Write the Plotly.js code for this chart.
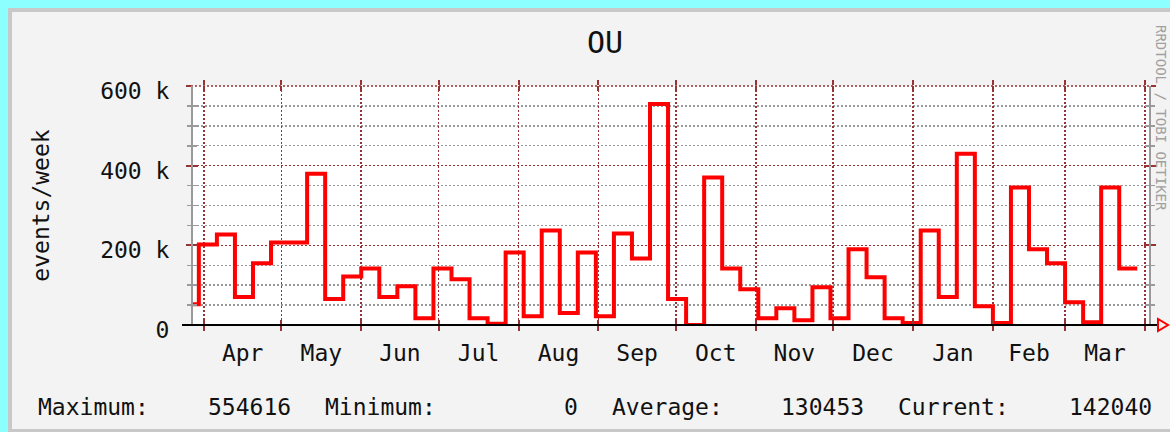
<!DOCTYPE html>
<html>
<head>
<meta charset="utf-8">
<script src="https://cdn.plot.ly/plotly-3.0.1.min.js"></script>
<style>
  html, body { margin:0; padding:0; }
  body { width:1170px; height:432px; background:#8cffff; position:relative; overflow:hidden; }
  #frame { position:absolute; left:8px; top:8px; width:1162px; height:424px; background:#c8c8c8; }
  #inner { position:absolute; left:12px; top:12px; width:1158px; height:417px; background:#f3f3f3; }
  #chart { position:absolute; left:0; top:0; width:1170px; height:432px; }
</style>
</head>
<body>
<div id="frame"></div>
<div id="inner"></div>
<div id="chart"></div>
<script>
// ---- data ----
const weekStart = ['2006-03-23','2006-03-30','2006-04-06','2006-04-13','2006-04-20','2006-04-27',
  '2006-05-04','2006-05-11','2006-05-18','2006-05-25','2006-06-01','2006-06-08','2006-06-15',
  '2006-06-22','2006-06-29','2006-07-06','2006-07-13','2006-07-20','2006-07-27','2006-08-03',
  '2006-08-10','2006-08-17','2006-08-24','2006-08-31','2006-09-07','2006-09-14','2006-09-21',
  '2006-09-28','2006-10-05','2006-10-12','2006-10-19','2006-10-26','2006-11-02','2006-11-09',
  '2006-11-16','2006-11-23','2006-11-30','2006-12-07','2006-12-14','2006-12-21','2006-12-28',
  '2007-01-04','2007-01-11','2007-01-18','2007-01-25','2007-02-01','2007-02-08','2007-02-15',
  '2007-02-22','2007-03-01','2007-03-08','2007-03-15','2007-03-22','2007-03-29'];
const eventsPerWeek = [52000,
  202000,227000,70000,155000,207000,207000,380000,65000,122000,142000,
  70000,97000,17000,142000,115000,17000,3000,182000,22000,237000,
  30000,182000,22000,230000,167000,554616,65000,0,370000,142000,
  90000,17000,42000,12000,95000,17000,190000,120000,17000,5000,
  237000,70000,430000,47000,5000,345000,190000,155000,57000,7000,
  345000,142040,
  142040];
const yTickVals = [0, 200000, 400000, 600000];
const yTickText = ['0', '200 k', '400 k', '600 k'];
const chartTitle = 'OU';
const yTitle = 'events/week';
const statLabels = ['Maximum:', 'Minimum:', 'Average:', 'Current:'];
const statValues = ['554616', '0', '130453', '142040'];
const watermark = 'RRDTOOL / TOBI OETIKER';

// ---- styling / geometry ----
const FONT = 'DejaVu Sans Mono, monospace';
const RED_GRID = '#993333';
const GRAY = '#9a9a9a';
const W = 1170, H = 432;
const L = 193, R = 1149, T = 86, B = 325;
const px = x => (x - L) / (R - L);
const py = y => (B - y) / (B - T);
const xRange = ['2006-03-27 17:36', '2007-04-02 13:14'];
const yRange = [0, 600000];

const traces = [
  { x: weekStart, y: eventsPerWeek, type: 'scatter', mode: 'lines',
    line: { shape: 'hv', color: '#ff0000', width: 4 }, hoverinfo: 'x+y', showlegend: false },
  { x: [], y: [], xaxis: 'x2', yaxis: 'y2', type: 'scatter', mode: 'lines', showlegend: false }
];

const annotations = [];
const labelX = [36, 323, 610, 896];
const valueX = [293, 580, 866, 1154];
statLabels.forEach((s, i) => {
  annotations.push({ text: s, xref: 'paper', yref: 'paper', x: px(labelX[i]), y: py(407),
    xanchor: 'left', yanchor: 'middle', showarrow: false, font: { family: FONT, size: 23, color: '#111' } });
  annotations.push({ text: statValues[i], xref: 'paper', yref: 'paper', x: px(valueX[i]), y: py(407),
    xanchor: 'right', yanchor: 'middle', showarrow: false, font: { family: FONT, size: 23, color: '#111' } });
});
annotations.push({ text: watermark, xref: 'paper', yref: 'paper', x: px(1161), y: py(118),
  xanchor: 'center', yanchor: 'middle', textangle: 90, showarrow: false,
  font: { family: FONT, size: 14, color: '#a0a0a0' } });

const layout = {
  width: W, height: H, autosize: false,
  margin: { l: L, r: W - R, t: T, b: H - B, pad: 0 },
  paper_bgcolor: 'rgba(0,0,0,0)', plot_bgcolor: '#ffffff',
  title: { text: chartTitle, font: { family: FONT, size: 30, color: '#111' },
    xref: 'container', yref: 'container', x: 605 / W, xanchor: 'center', y: 1 - 42 / H, yanchor: 'middle' },
  xaxis: {
    type: 'date', range: xRange, tick0: '2006-04-01', dtick: 'M1', tickformat: '%b', ticklabelmode: 'period',
    ticks: 'outside', ticklen: 5, tickwidth: 2, tickcolor: RED_GRID, mirror: 'ticks',
    showline: false, zeroline: false,
    showgrid: true, gridcolor: RED_GRID, gridwidth: 1.6, griddash: '2px,2px',
    tickfont: { family: FONT, size: 23, color: '#111' }, ticklabelstandoff: 2
  },
  yaxis: {
    range: yRange, tickvals: yTickVals, ticktext: yTickText,
    ticks: 'outside', ticklen: 5, tickwidth: 2, tickcolor: RED_GRID, mirror: 'ticks',
    showline: true, linecolor: GRAY, linewidth: 2, zeroline: false,
    showgrid: true, gridcolor: RED_GRID, gridwidth: 1.6, griddash: '2px,2px',
    minor: { dtick: 50000, tick0: 0, ticks: 'outside', ticklen: 4, tickwidth: 1.5, tickcolor: GRAY,
      showgrid: true, gridcolor: '#999999', gridwidth: 1.4, griddash: '2px,2px' },
    tickfont: { family: FONT, size: 23, color: '#111' }, ticklabelstandoff: 12, ticklabelshift: 5,
    title: { text: yTitle, font: { family: FONT, size: 23, color: '#111' }, standoff: 44 }
  },
  xaxis2: {
    type: 'date', range: xRange, overlaying: 'x', anchor: 'y2', tick0: '2006-04-01', dtick: 'M1',
    ticks: 'inside', ticklen: 5, tickwidth: 2, tickcolor: RED_GRID, mirror: 'ticks',
    showticklabels: false, showgrid: false, zeroline: false, showline: false
  },
  yaxis2: {
    range: yRange, overlaying: 'y', anchor: 'x2', tickvals: yTickVals,
    ticks: 'inside', ticklen: 5, tickwidth: 2, tickcolor: RED_GRID, mirror: 'ticks',
    minor: { dtick: 50000, tick0: 0, ticks: 'inside', ticklen: 4, tickwidth: 1.5, tickcolor: GRAY, showgrid: false },
    showticklabels: false, showgrid: false, zeroline: false, showline: false
  },
  shapes: [
    { type: 'line', xref: 'paper', yref: 'paper', x0: px(187), x1: px(1154), y0: 1, y1: 1,
      line: { color: RED_GRID, width: 1.6, dash: '2px,2px' }, layer: 'below' },
    { type: 'line', xref: 'paper', yref: 'paper', x0: px(182), x1: px(1158), y0: 0, y1: 0,
      line: { color: '#000', width: 2 } },
    { type: 'path', xref: 'paper', yref: 'paper', xsizemode: 'pixel', ysizemode: 'pixel',
      xanchor: px(1158), yanchor: 0, path: 'M0,-6 L0,6 L10,0 Z',
      line: { color: '#ff0000', width: 2 }, fillcolor: '#f3f3f3' }
  ],
  annotations: annotations,
  showlegend: false
};

Plotly.newPlot('chart', traces, layout, { displayModeBar: false, staticPlot: true });
</script>
</body>
</html>
